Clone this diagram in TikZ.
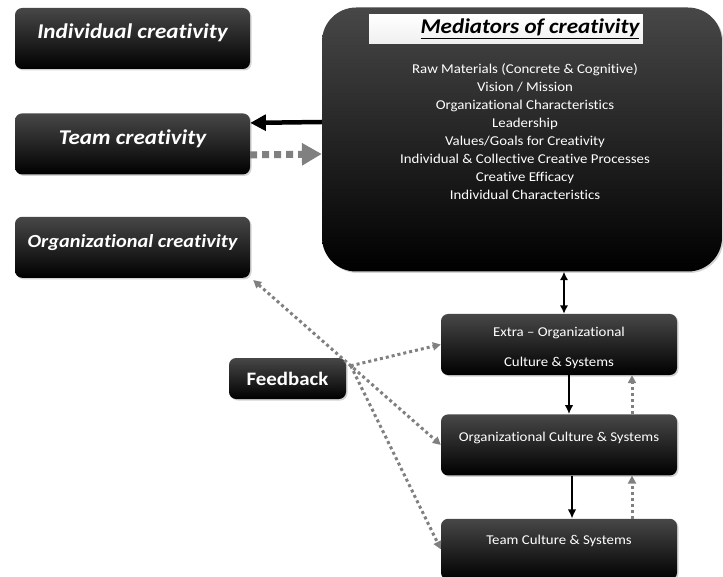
\documentclass[tikz,border=0pt]{standalone}
\usepackage{fontspec}
\setmainfont{Carlito}[Ligatures=NoCommon, FakeStretch=1.1]
\usetikzlibrary{arrows.meta,positioning,shadows}
\tikzset{
  blackbox/.style={draw=none, rounded corners=2.5mm, top color=black!72, middle color=black, bottom color=black,
    drop shadow={opacity=0.35, shadow xshift=1.5pt, shadow yshift=-1.5pt}, text=white, align=center},
  levelbox/.style={blackbox, minimum width=235pt, minimum height=61pt, text height=13pt, text depth=12pt,
    font=\fontsize{21}{23}\selectfont\bfseries\itshape},
  culturebox/.style={blackbox, minimum width=236pt, minimum height=61pt, font=\fontsize{13.5}{30}\selectfont},
  blackarrow/.style={-{Latex[length=3.2mm, width=3mm]}, line width=2.4pt},
  greyarrow/.style={-{Triangle[length=2.8mm, width=2.8mm]}, gray, line width=3pt, dash pattern=on 3pt off 3pt},
  fbarrow/.style={-{Triangle[length=2.8mm, width=2.8mm]}, gray, line width=3pt, dash pattern=on 3pt off 3pt}
}

\begin{document}
\begin{tikzpicture}[x=1pt, y=-1pt, node distance=42pt]
  \useasboundingbox (0,0) rectangle (723,577);

  % creativity levels
  \node[levelbox] (indiv) at (132.5,38.5) {Individual creativity};
  \node[levelbox, below=44pt of indiv] (team) {Team creativity};
  \node[levelbox, below=of team, font=\fontsize{18.5}{20}\selectfont\bfseries\itshape] (orgc) {Organizational creativity};

  % mediators
  \node[blackbox, rounded corners=12mm, minimum width=400pt, minimum height=264pt] (med) at (522,139.5) {};
  \node[top color=white, bottom color=black!6, minimum width=272pt, minimum height=29pt,
    font=\fontsize{21}{22}\selectfont\bfseries\itshape] (medtitle) at (506,29) {\hspace*{48pt}\underline{Mediators of creativity}};
  \node[below=16pt of medtitle, xshift=19pt, text=white, align=center, font=\fontsize{13.5}{18}\selectfont] (medlist)
    {Raw Materials (Concrete \& Cognitive)\\ Vision / Mission\\ Organizational Characteristics\\ Leadership\\
     Values/Goals for Creativity\\ Individual \& Collective Creative Processes\\ Creative Efficacy\\ Individual Characteristics};

  % culture & systems
  \node[culturebox] (extra) at (559,344.5) {\rule{0pt}{17pt}Extra -- Organizational\\ Culture \& Systems};
  \node[culturebox, below=39pt of extra, text height=9pt, text depth=16pt] (orgcult) {Organizational Culture \& Systems};
  \node[culturebox, below=43pt of orgcult, text height=9pt, text depth=18pt] (teamcult) {Team Culture \& Systems};
  \node[blackbox, minimum width=117pt, minimum height=41pt, font=\fontsize{19}{20}\selectfont\bfseries] (fb) at (287.5,378.5) {Feedback};

  % arrows
  \draw[-{Triangle[length=5.5mm, width=5.5mm]}, line width=4.5pt] ([yshift=17.5pt]med.west) -- ([yshift=21pt]team.east);
  \draw[-{Triangle[length=7mm, width=7.5mm]}, gray, line width=7pt, dash pattern=on 7pt off 5pt]
    ([yshift=-11pt]team.east) -- ([yshift=-14.5pt]med.west);
  \draw[{Latex[length=3mm, width=3mm]}-{Latex[length=3mm, width=3mm]}, line width=2.4pt]
    ([xshift=5pt]extra.north) -- ([xshift=5pt]extra.north |- med.south);
  \draw[blackarrow] ([xshift=10pt]extra.south) -- ([xshift=10pt]extra.south |- orgcult.north);
  \draw[blackarrow] ([xshift=13pt]orgcult.south) -- ([xshift=13pt]orgcult.south |- teamcult.north);
  \draw[greyarrow] ([xshift=73pt]orgcult.north) -- ([xshift=73pt]orgcult.north |- extra.south);
  \draw[greyarrow] ([xshift=73pt]teamcult.north) -- ([xshift=73pt]teamcult.north |- orgcult.south);

  % feedback
  \draw[fbarrow, {Triangle[length=2.8mm, width=2.8mm]}-{Triangle[length=2.8mm, width=2.8mm]}]
    ([xshift=3pt,yshift=-2pt]orgc.south east) -- coordinate[pos=0.52] (fan) (orgcult.west);
  \draw[fbarrow] (fan) -- (extra.west);
  \draw[fbarrow] (fan) -- (teamcult.west);
\end{tikzpicture}
\end{document}
